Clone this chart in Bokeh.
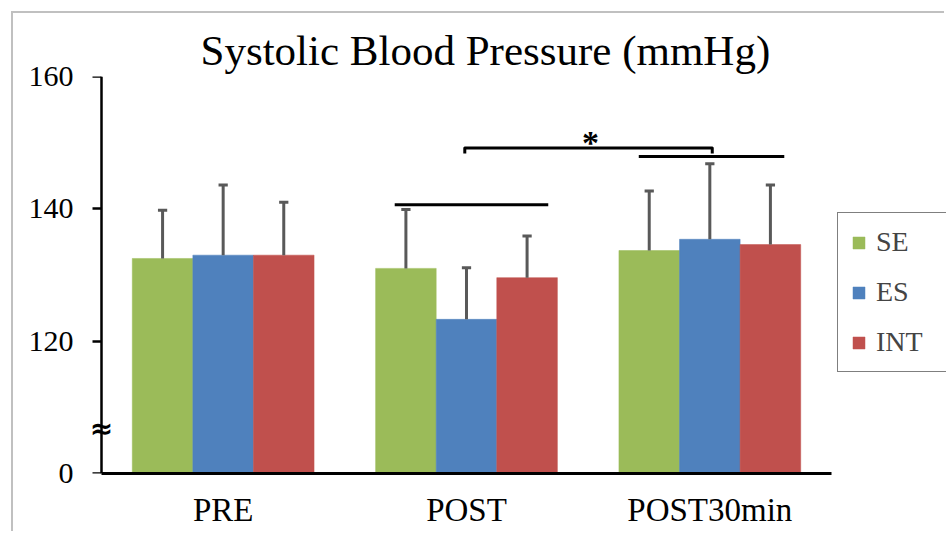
from bokeh.plotting import figure
from bokeh.models import (Range1d, FixedTicker, Legend, LegendItem, Title, Label,
                          LinearAxis)
from bokeh.core.properties import value
from bokeh.embed import file_html
from bokeh.resources import INLINE

# ---- data ----
categories = ["PRE", "POST", "POST30min"]
series = ["SE", "ES", "INT"]
SE_mean = [132.5, 131.0, 133.7]
ES_mean = [133.0, 123.3, 135.4]
INT_mean = [133.0, 129.6, 134.6]
SE_sd = [7.3, 8.9, 9.0]
ES_sd = [10.6, 7.8, 11.4]
INT_sd = [8.0, 6.3, 9.0]
colors = ["#9BBB59", "#4F81BD", "#C0504D"]
y_ticks = [100, 120, 140, 160]
y_tick_labels = ["0", "120", "140", "160"]

# significance annotations (category-index units, mmHg)
sig_x0 = [1.205, 2.208]
sig_x1 = [1.836, 2.806]
sig_y = [140.6, 147.9]
bracket_x = [1.493, 2.51]
bracket_y = 149.2
bracket_drop = 0.85
star_x = 2.01
star_y = 150.0

FONT = "Liberation Serif"
BASE = 100
BAR_W = 0.249
PX = 1 / 243.3  # data units per pixel along x

p = figure(width=933, height=520, output_backend="svg", toolbar_location=None,
           x_range=Range1d(-16 * PX, 3 + 115 * PX), y_range=Range1d(100, 160),
           min_border_left=72, min_border_right=0, min_border_top=63,
           min_border_bottom=60)
p.styles = {"border-left": "2px solid #c0c0c0", "border-top": "2px solid #c0c0c0",
            "margin-left": "11px", "margin-top": "11px"}
p.outline_line_color = None
p.xgrid.grid_line_color = None
p.ygrid.grid_line_color = None
p.background_fill_color = "white"

means = [SE_mean, ES_mean, INT_mean]
sds = [SE_sd, ES_sd, INT_sd]
items = []
for j, (name, m, s, c) in enumerate(zip(series, means, sds, colors)):
    xs = [i + 0.5 + (j - 1) * BAR_W for i in range(len(categories))]
    r = p.vbar(x=xs, top=m, bottom=BASE, width=BAR_W, fill_color=c,
               line_color=c, line_width=0.5)
    items.append(LegendItem(label=name, renderers=[r]))
    tops = [a + b for a, b in zip(m, s)]
    p.segment(x0=xs, y0=m, x1=xs, y1=tops, line_color="#595959", line_width=3)
    p.segment(x0=[x - 0.019 for x in xs], y0=tops, x1=[x + 0.019 for x in xs],
              y1=tops, line_color="#595959", line_width=3)

# significance lines
p.segment(x0=sig_x0, y0=sig_y, x1=sig_x1, y1=sig_y, line_color="black", line_width=3)
p.line(x=[bracket_x[0], bracket_x[0], bracket_x[1], bracket_x[1]],
       y=[bracket_y - bracket_drop, bracket_y, bracket_y, bracket_y - bracket_drop],
       line_color="black", line_width=3, line_join="round")
p.text(x=[star_x], y=[star_y], text=["*"], text_font=value(FONT),
       text_font_size="34px", text_font_style="bold", text_align="center",
       text_baseline="alphabetic", text_color="black")

# y axis: labels on the standard axis, line + ticks on an axis fixed at x=0
ticker = FixedTicker(ticks=y_ticks)
p.yaxis.ticker = ticker
p.yaxis.major_label_overrides = {t: l for t, l in zip(y_ticks, y_tick_labels)}
p.yaxis.minor_tick_line_color = None
p.yaxis.major_tick_line_color = None
p.yaxis.major_tick_in = 0
p.yaxis.major_tick_out = 0
p.yaxis.axis_line_color = None
p.yaxis.major_label_text_font = FONT
p.yaxis.major_label_text_font_size = "30px"
p.yaxis.major_label_text_color = "black"
p.yaxis.major_label_standoff = 12

yline = LinearAxis(ticker=FixedTicker(ticks=y_ticks), fixed_location=0,
                   major_label_text_font_size="0px", major_label_standoff=0,
                   major_label_overrides={t: "" for t in y_ticks},
                   minor_tick_line_color=None, major_tick_in=0, major_tick_out=9,
                   major_tick_line_width=2.5, major_tick_line_color="black",
                   axis_line_width=2.5, axis_line_color="black")
p.add_layout(yline, "left")

p.xaxis.bounds = (0, 3)
p.xaxis.ticker = FixedTicker(ticks=[i + 0.5 for i in range(len(categories))])
p.xaxis.major_label_overrides = {i + 0.5: c for i, c in enumerate(categories)}
p.xaxis.minor_tick_line_color = None
p.xaxis.major_tick_line_color = None
p.xaxis.axis_line_width = 3
p.xaxis.axis_line_color = "black"
p.xaxis.major_label_text_font = FONT
p.xaxis.major_label_text_font_size = "33px"
p.xaxis.major_label_text_color = "black"
p.xaxis.major_label_standoff = 12

# axis break mark
p.add_layout(Label(x=0, y=106.8, text="≈", text_font="DejaVu Sans",
                   text_font_size="28px", text_font_style="bold",
                   text_align="center", text_baseline="middle", text_color="black"))

# title
p.title = Title(text="Systolic Blood Pressure (mmHg)", text_font=FONT,
                text_font_size="43px", text_font_style="normal", align="left",
                offset=115, standoff=6, text_color="black")

legend = Legend(items=items, location=(752, 101), margin=0, padding=13, spacing=18,
                glyph_width=15, glyph_height=15, label_height=20, label_standoff=10,
                label_width=62,
                label_text_font=FONT, label_text_font_size="28px",
                border_line_color="black", border_line_width=1.5,
                background_fill_alpha=1)
p.add_layout(legend, "center")

open("out.html", "w").write(file_html(p, INLINE))
